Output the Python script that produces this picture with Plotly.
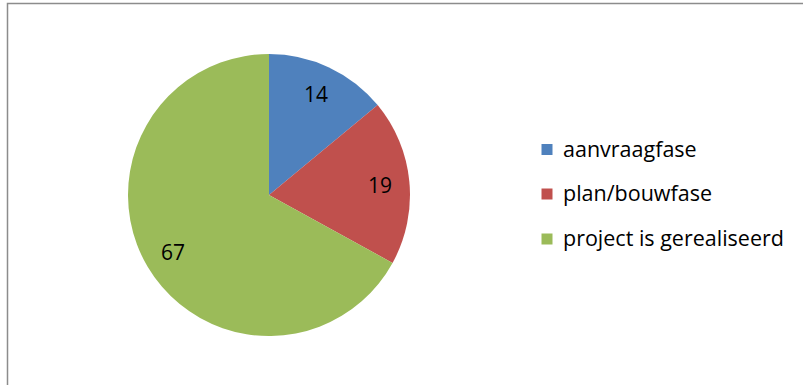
import math
import plotly.graph_objects as go

labels = ["aanvraagfase", "plan/bouwfase", "project is gerealiseerd"]
values = [14, 19, 67]
colors = ["#4F81BD", "#C0504D", "#9BBB59"]

W, H = 803, 385
cx, cy, r = 269, 195, 141

fig = go.Figure()
fig.add_trace(go.Pie(
    labels=labels, values=values, sort=False, direction="clockwise", rotation=0,
    marker=dict(colors=colors, line=dict(width=0)),
    textinfo="none",
    domain=dict(x=[(cx - r) / W, (cx + r) / W], y=[1 - (cy + r) / H, 1 - (cy - r) / H]),
    showlegend=False, hoverinfo="label+value",
))

# data labels at ~0.79 radius along each slice's mid-angle
total = sum(values)
cum = 0
for v in values:
    mid = (cum + v / 2) / total
    cum += v
    th = 2 * math.pi * mid
    px = cx + 0.79 * r * math.sin(th)
    py = cy - 0.79 * r * math.cos(th)
    fig.add_annotation(xref="paper", yref="paper", x=px / W, y=1 - py / H,
                       xanchor="center", yanchor="middle", text=str(v), showarrow=False,
                       font=dict(family="Open Sans", size=21, color="black"))

# manual legend
row_y = [149.5, 194, 239]
for lab, col, yy in zip(labels, colors, row_y):
    fig.add_shape(type="rect", xref="paper", yref="paper",
                  x0=541.5 / W, x1=552.5 / W, y0=1 - (yy + 5.5) / H, y1=1 - (yy - 5.5) / H,
                  fillcolor=col, line=dict(width=0))
    fig.add_annotation(xref="paper", yref="paper", x=561 / W, y=1 - (yy - 1.5) / H,
                       xanchor="left", yanchor="middle", text=lab, showarrow=False,
                       font=dict(family="Open Sans", size=21.5, color="black"))

# chart frame
fig.add_shape(type="rect", xref="paper", yref="paper",
              x0=7.5 / W, x1=1.05, y0=-0.05, y1=1 - 3.5 / H,
              line=dict(color="#8C8C8C", width=1.5), fillcolor="rgba(0,0,0,0)")

fig.update_layout(width=W, height=H, margin=dict(l=0, r=0, t=0, b=0),
                  paper_bgcolor="white", plot_bgcolor="white")
fig.write_html("out.html")
